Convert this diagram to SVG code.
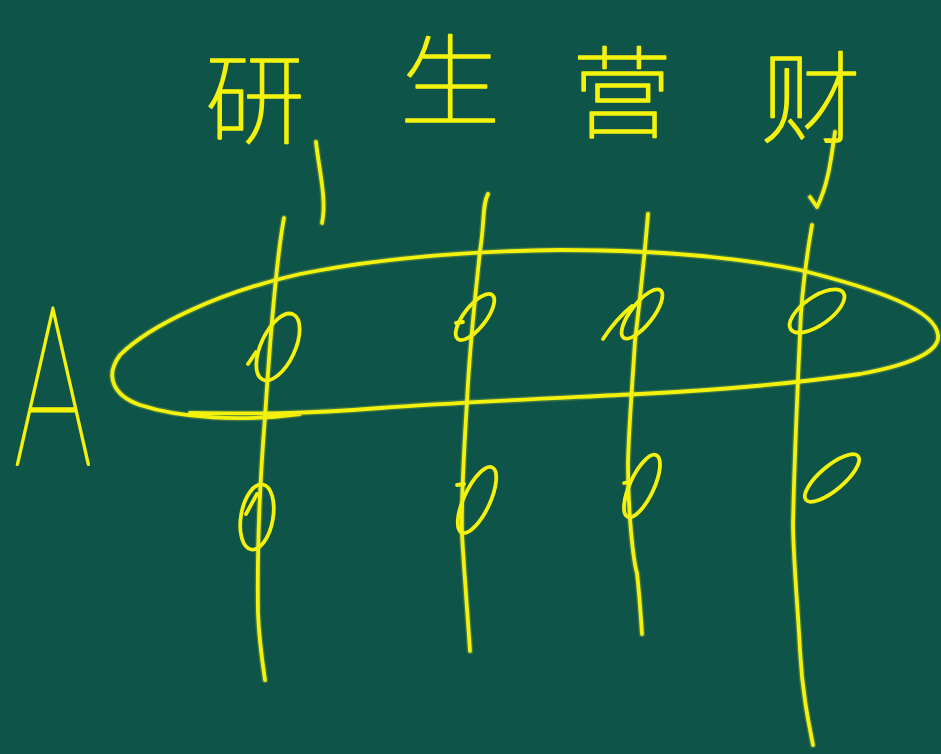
<svg xmlns="http://www.w3.org/2000/svg" width="941" height="754" viewBox="0 0 941 754">
<style>
.s{fill:none;stroke:#f4f20c;stroke-width:3.8;stroke-linecap:round;stroke-linejoin:round}
.h{fill:none;stroke:#c9d63a;stroke-width:6.5;stroke-linecap:round;stroke-linejoin:round;opacity:0.25}
.t{fill:#f4f20c;stroke:#f4f20c;stroke-width:1.6;stroke-linejoin:round;font-family:"Noto Sans CJK SC","Noto Sans CJK JP",sans-serif;font-weight:100;font-size:100px;text-anchor:middle}
.a{fill:#f4f20c;stroke:#f4f20c;stroke-width:3;stroke-linejoin:round;font-family:Lato,"Liberation Sans",sans-serif;font-weight:100;font-size:222px}
</style>
<rect width="941" height="754" fill="#0e5448"/>
<g id="labels">
<text class="t" x="255" y="136">研</text>
<text class="t" x="450" y="118">生</text>
<text class="t" x="622" y="130">营</text>
<text class="t" x="811" y="135">财</text>
<text class="a" transform="translate(14,464) scale(0.55,1)">A</text>
</g>
<g id="tails">
<path class="h" d="M316,142 C319,170 327,200 322,223"/>
<path class="s" d="M316,142 C319,170 327,200 322,223"/>
<path class="h" d="M835,132 C831,160 828,185 817,207 L810,197"/>
<path class="s" d="M835,132 C831,160 828,185 817,207 L810,197"/>
</g>
<g id="ellipse-A">
<path class="h" d="M190,413 C260,414 300,414 380,408 C460,402 560,398 640,394 C720,390 790,384 860,374 C915,364 940,350 938,335 C935,310 880,290 800,270 C730,256 650,250 560,250 C470,251 380,258 300,274 C220,292 150,325 120,355 C105,375 112,395 140,405 C180,418 240,422 300,414"/>
<path class="s" d="M190,413 C260,414 300,414 380,408 C460,402 560,398 640,394 C720,390 790,384 860,374 C915,364 940,350 938,335 C935,310 880,290 800,270 C730,256 650,250 560,250 C470,251 380,258 300,274 C220,292 150,325 120,355 C105,375 112,395 140,405 C180,418 240,422 300,414"/>
</g>
<g id="lines">
<path class="h" d="M284,218 C276,260 270,340 265,417 C260,480 257,553 258,613 C259,640 262,660 265,680"/>
<path class="s" d="M284,218 C276,260 270,340 265,417 C260,480 257,553 258,613 C259,640 262,660 265,680"/>
<path class="h" d="M488,194 C482,205 485,220 480,251 C476,290 470,340 467,401 C464,450 461,500 462,534 C464,570 468,620 470,651"/>
<path class="s" d="M488,194 C482,205 485,220 480,251 C476,290 470,340 467,401 C464,450 461,500 462,534 C464,570 468,620 470,651"/>
<path class="h" d="M648,214 C645,250 640,300 635,341 C632,390 628,440 628,466 C628,510 633,560 637,573 C640,600 641,620 642,634"/>
<path class="s" d="M648,214 C645,250 640,300 635,341 C632,390 628,440 628,466 C628,510 633,560 637,573 C640,600 641,620 642,634"/>
<path class="h" d="M812,225 C806,260 801,300 800,334 C797,400 794,470 793,526 C794,570 798,610 800,650 C802,690 808,720 813,745"/>
<path class="s" d="M812,225 C806,260 801,300 800,334 C797,400 794,470 793,526 C794,570 798,610 800,650 C802,690 808,720 813,745"/>
</g>
<g id="loops">
<g id="loop-1a"><ellipse class="s" cx="278" cy="347" rx="17" ry="36" transform="rotate(25 278 347)"/><path class="s" d="M248,364 L256,352"/></g>
<g id="loop-2a"><ellipse class="s" cx="475" cy="317" rx="11" ry="28" transform="rotate(38 475 317)"/><path class="s" d="M456,323 L463,322"/></g>
<g id="loop-3a"><ellipse class="s" cx="642" cy="314" rx="11" ry="30" transform="rotate(38 642 314)"/><path class="s" d="M603,339 C612,325 622,314 632,306"/></g>
<g id="loop-4a"><ellipse class="s" cx="817" cy="311" rx="14" ry="32" transform="rotate(55 817 311)"/></g>
<g id="loop-1b"><ellipse class="s" cx="257" cy="517" rx="16" ry="33" transform="rotate(10 257 517)"/><path class="s" d="M246,514 L257,494"/></g>
<g id="loop-2b"><ellipse class="s" cx="477" cy="500" rx="13" ry="36" transform="rotate(25 477 500)"/><path class="s" d="M457,485 L464,484"/></g>
<g id="loop-3b"><ellipse class="s" cx="642" cy="486" rx="12" ry="34" transform="rotate(25 642 486)"/><path class="s" d="M624,483 L630,482"/></g>
<g id="loop-4b"><ellipse class="s" cx="832" cy="478" rx="12" ry="34" transform="rotate(50 832 478)"/></g>
</g>
</svg>
